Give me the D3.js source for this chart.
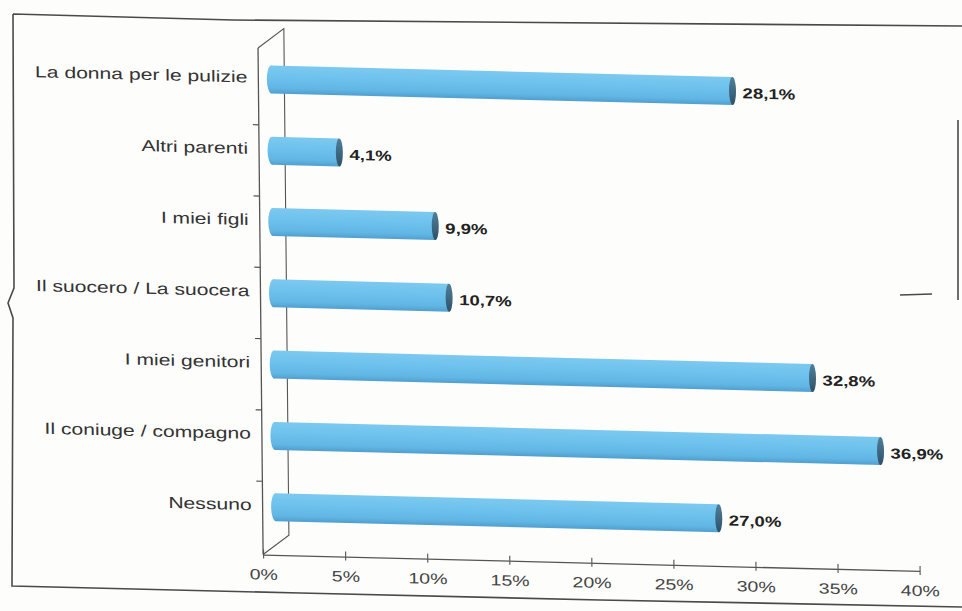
<!DOCTYPE html>
<html>
<head>
<meta charset="utf-8">
<script src="https://cdn.jsdelivr.net/npm/d3@7"></script>
<style>
  html, body { margin: 0; padding: 0; background: #fdfdfc; }
  svg { display: block; }
</style>
</head>
<body>
<svg id="chart" width="962" height="611"></svg>
<script>
// Chi ti aiuta nelle faccende di casa? (valori in %)
const categories = [
  "La donna per le pulizie",
  "Altri parenti",
  "I miei figli",
  "Il suocero / La suocera",
  "I miei genitori",
  "Il coniuge / compagno",
  "Nessuno"
];
const values = [28.1, 4.1, 9.9, 10.7, 32.8, 36.9, 27.0];
const xTicks = [0, 5, 10, 15, 20, 25, 30, 35, 40];

const fmtValue = v => d3.format(".1f")(v).replace(".", ",") + "%";
const fmtTick = t => t + "%";

const svg = d3.select("#chart");
const defs = svg.append("defs");

// cylinder shading
const body = defs.append("linearGradient").attr("id", "barBody")
  .attr("x1", 0).attr("y1", 0).attr("x2", 0).attr("y2", 1);
body.append("stop").attr("offset", "0%").attr("stop-color", "#7cc9ef");
body.append("stop").attr("offset", "35%").attr("stop-color", "#6fc3ee");
body.append("stop").attr("offset", "80%").attr("stop-color", "#62b6e4");
body.append("stop").attr("offset", "100%").attr("stop-color", "#4f9fcf");

const cap = defs.append("linearGradient").attr("id", "barCap")
  .attr("x1", 0).attr("y1", 0).attr("x2", 0).attr("y2", 1);
cap.append("stop").attr("offset", "0%").attr("stop-color", "#4f7f9c");
cap.append("stop").attr("offset", "100%").attr("stop-color", "#2f5266");

// page frame around the chart
svg.append("path")
  .attr("d", "M13,14 L233,20 L962,26 M13,14 L14,288 L8,303 L13,318 L12,586 L300,593 L600,600 L962,607 M958,120 L958,300 M900,295 L932,294")
  .attr("fill", "none").attr("stroke", "#4a4a4a").attr("stroke-width", 1.6);

// the chart sits slightly sheared on the page
const k = 0.025, m = 0.01;
const g = svg.append("g")
  .attr("transform", `matrix(1, ${k}, ${m}, 1, ${-m * 300}, ${-k * 480})`);

const x = d3.scaleLinear().domain([0, 40]).range([260.5, 917]);
const y = d3.scaleBand().domain(categories).range([59, 558]);

const yTop = 53.5, yBase = 560;
const depthX = 26, depthY = -20;           // back wall offset
const barDX = depthX / 2, barDY = depthY / 2; // bars sit mid-depth
const barH = 28;
const axisColor = "#555";

// back wall edge and depth lines
g.append("path")
  .attr("d", `M${x(0)},${yTop} L${x(0) + depthX},${yTop + depthY} L${x(0) + depthX},${yBase + depthY} L${x(0)},${yBase}`)
  .attr("fill", "none").attr("stroke", axisColor).attr("stroke-width", 1.1);

// front vertical axis
g.append("line")
  .attr("x1", x(0)).attr("x2", x(0)).attr("y1", yTop).attr("y2", yBase)
  .attr("stroke", axisColor).attr("stroke-width", 1.3);

// category separators on the vertical axis
g.selectAll(".ytick").data(categories.slice(1)).join("line")
  .attr("class", "ytick")
  .attr("x1", x(0) - 6).attr("x2", x(0))
  .attr("y1", d => y(d)).attr("y2", d => y(d))
  .attr("stroke", axisColor).attr("stroke-width", 1.2);

// horizontal axis
const xAxis = g.append("g").attr("transform", `translate(0,${yBase})`)
  .call(d3.axisBottom(x).tickValues(xTicks).tickFormat(fmtTick).tickSizeInner(-5).tickSizeOuter(0));
xAxis.select(".domain").attr("stroke", axisColor).attr("stroke-width", 1.3);
xAxis.selectAll(".tick line").attr("stroke", axisColor).attr("stroke-width", 1.1)
  .attr("y1", 4);
xAxis.selectAll(".tick text").remove();
xAxis.selectAll(".tick").append("text")
  .attr("transform", "translate(0,25) scale(1.3,1)")
  .attr("text-anchor", "middle")
  .attr("font-family", "'Liberation Sans', Arial, sans-serif")
  .attr("font-size", 15)
  .attr("fill", "#444")
  .text(d => fmtTick(d));

// category labels
g.selectAll(".cat").data(categories).join("text")
  .attr("class", "cat")
  .attr("transform", d => `translate(${x(0) - 11},${y(d) + y.bandwidth() / 2 + barDY - 2}) scale(1.32,1)`)
  .attr("dy", "0.35em")
  .attr("text-anchor", "end")
  .attr("font-family", "'Liberation Sans', Arial, sans-serif")
  .attr("font-size", 16)
  .attr("fill", "#333")
  .text(d => d);

// cylinders
const bars = g.selectAll(".bar").data(categories.map((c, i) => ({ c, v: values[i] })))
  .join("g").attr("class", "bar");

const cy = d => y(d.c) + y.bandwidth() / 2 + barDY;
const bx0 = () => x(0) + barDX;
const bx1 = d => x(d.v) + barDX;

bars.append("ellipse")
  .attr("cx", bx0).attr("cy", cy).attr("rx", 4.5).attr("ry", barH / 2)
  .attr("fill", "url(#barBody)");
bars.append("rect")
  .attr("x", bx0).attr("y", d => cy(d) - barH / 2)
  .attr("width", d => bx1(d) - bx0()).attr("height", barH)
  .attr("fill", "url(#barBody)");
bars.append("ellipse")
  .attr("cx", bx1).attr("cy", cy).attr("rx", 3.5).attr("ry", barH / 2)
  .attr("fill", "url(#barCap)");

// value labels
bars.append("text")
  .attr("transform", d => `translate(${bx1(d) + 10},${cy(d) + 2}) scale(1.28,1)`)
  .attr("dy", "0.35em")
  .attr("font-family", "'Liberation Sans', Arial, sans-serif")
  .attr("font-size", 14.5)
  .attr("font-weight", "bold")
  .attr("fill", "#222")
  .text(d => fmtValue(d.v));
</script>
</body>
</html>
